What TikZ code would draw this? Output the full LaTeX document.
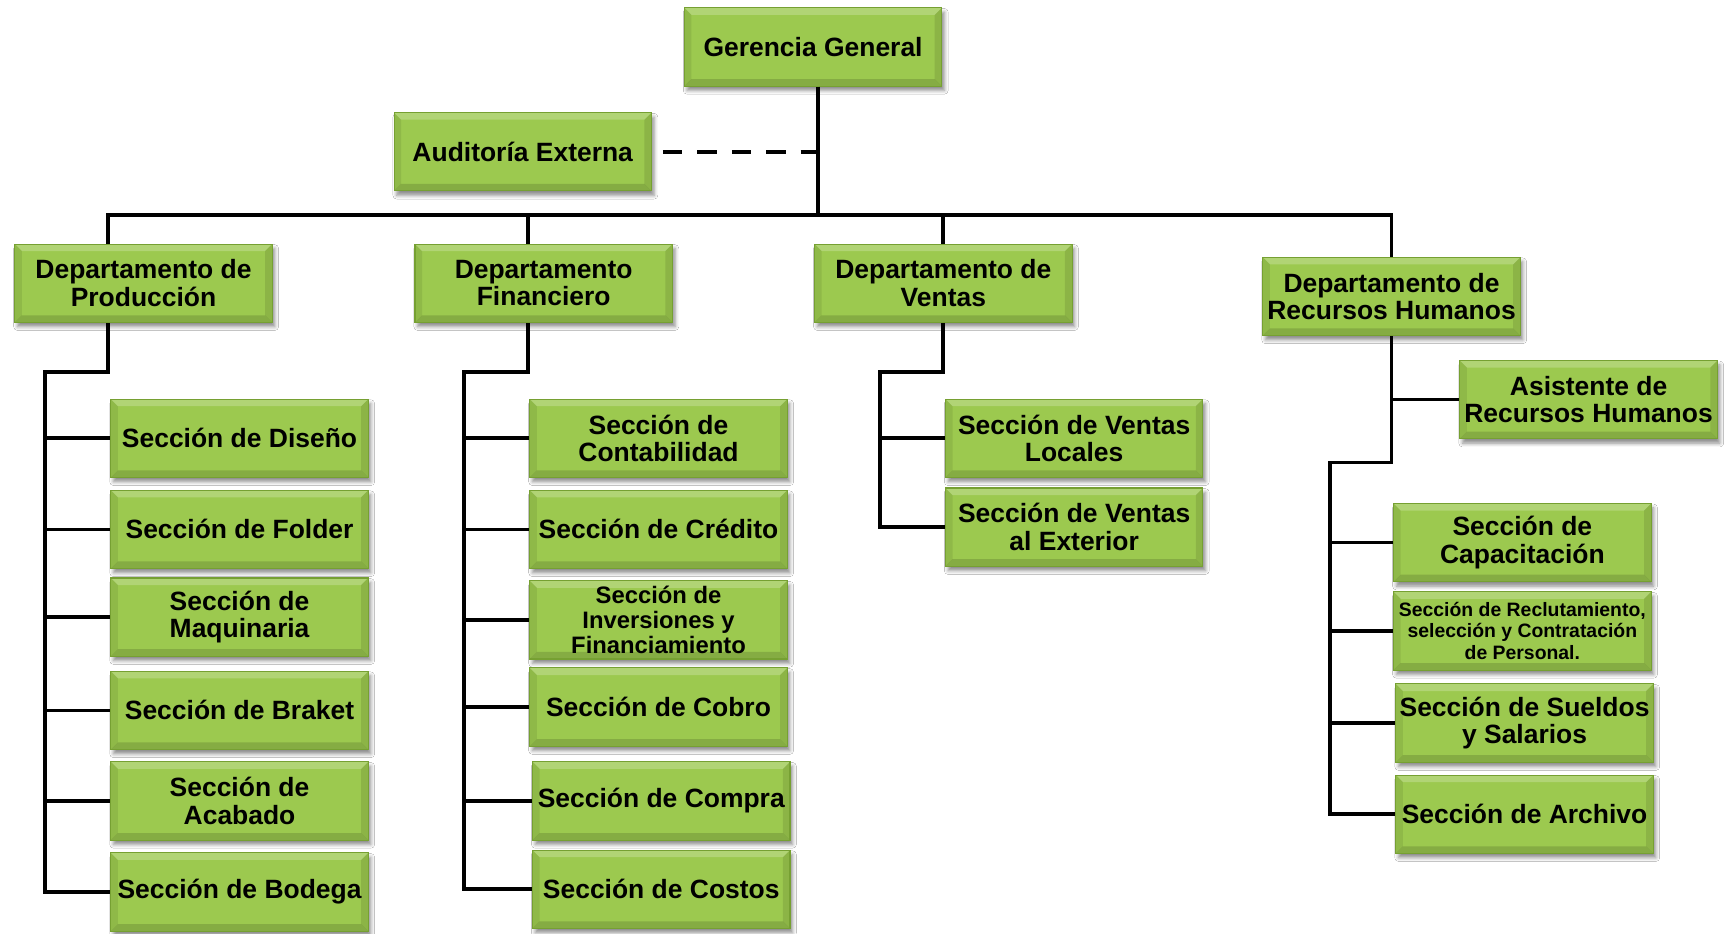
\documentclass[tikz,border=0pt]{standalone}
\usepackage{fontspec}
\setmainfont{Liberation Sans}
\usetikzlibrary{shadows.blur}
\definecolor{BoxGreen}{HTML}{9CC94F}
\definecolor{BoxRule}{HTML}{76A032}
\tikzset{bevel/.style={path picture={
  \fill[white, opacity=.22] (path picture bounding box.north west) -- (path picture bounding box.north east)
    -- ([shift={(-4pt,-4pt)}]path picture bounding box.north east) -- ([shift={(4pt,-4pt)}]path picture bounding box.north west) -- cycle;
  \fill[black, opacity=.14] (path picture bounding box.south west) -- (path picture bounding box.south east)
    -- ([shift={(-4pt,4pt)}]path picture bounding box.south east) -- ([shift={(4pt,4pt)}]path picture bounding box.south west) -- cycle;
  \fill[black, opacity=.08] (path picture bounding box.north west) -- ([shift={(4pt,-4pt)}]path picture bounding box.north west)
    -- ([shift={(4pt,4pt)}]path picture bounding box.south west) -- (path picture bounding box.south west) -- cycle;
  \fill[black, opacity=.10] (path picture bounding box.north east) -- ([shift={(-4pt,-4pt)}]path picture bounding box.north east)
    -- ([shift={(-4pt,4pt)}]path picture bounding box.south east) -- (path picture bounding box.south east) -- cycle;}}}

\begin{document}
\begin{tikzpicture}[x=0.022cm, y=-0.022cm,
  box/.style={fill=BoxGreen, draw=BoxRule, line width=0.6pt, bevel,
              minimum width=5.13cm, minimum height=1.56cm, align=center, inner sep=2pt,
              blur shadow={shadow xshift=1.5pt, shadow yshift=-2.5pt, shadow opacity=45},
              font=\bfseries\fontsize{15}{15.6}\selectfont},
  tight/.style={font=\bfseries\fontsize{13.5}{14.4}\selectfont},
  small/.style={font=\bfseries\fontsize{11}{12.2}\selectfont},
  link/.style={line width=2.1pt, black}]
  \useasboundingbox[fill=white] (0,0) rectangle (1568,846);
  \node[box] (gg) at (736.5,42.5) {Gerencia General};
  \node[box] (audit) at (473.5,137.5) {Auditoría Externa};
  \node[box] (dprod) at (130,256.5) {Departamento de\\Producción};
  \node[box] (dfin) at (492.5,256.5) {Departamento\\Financiero};
  \node[box] (dven) at (854.5,256.5) {Departamento de\\Ventas};
  \node[box] (drh) at (1260.5,268.5) {Departamento de\\Recursos Humanos};
  \node[box] (asist) at (1439,362) {Asistente de\\Recursos Humanos};
  % produccion
  \node[box] (sdis) at (217,397) {Sección de Diseño};
  \node[box] (sfol) at (217,479.5) {Sección de Folder};
  \node[box] (smaq) at (217,559) {Sección de\\Maquinaria};
  \node[box] (sbra) at (217,643.5) {Sección de Braket};
  \node[box] (saca) at (217,725.5) {Sección de\\Acabado};
  \node[box] (sbod) at (217,808) {Sección de Bodega};
  % financiero
  \node[box] (scon) at (596.5,397) {Sección de\\Contabilidad};
  \node[box] (scre) at (596.5,479.5) {Sección de Crédito};
  \node[box, tight] (sinv) at (596.5,561.5) {Sección de\\Inversiones y\\Financiamiento};
  \node[box] (scob) at (596.5,640.5) {Sección de Cobro};
  \node[box] (scom) at (599,725.5) {Sección de Compra};
  \node[box] (scos) at (599,805.5) {Sección de Costos};
  % ventas
  \node[box] (sloc) at (973,397) {Sección de Ventas\\Locales};
  \node[box] (sext) at (973,477.5) {Sección de Ventas\\al Exterior};
  % recursos humanos
  \node[box] (scap) at (1379,491.5) {Sección de\\Capacitación};
  \node[box, small] (srec) at (1379,571.5) {Sección de Reclutamiento,\\selección y Contratación\\de Personal.};
  \node[box] (ssue) at (1381,655) {Sección de Sueldos\\y Salarios};
  \node[box] (sarc) at (1381,737.5) {Sección de Archivo};

  % top level
  \coordinate (bus) at (741,195);
  \coordinate (jp) at (98,195);
  \coordinate (jf) at (478,195);
  \draw[link] (gg.south -| bus) -- (bus);
  \draw[link, line width=2.2pt, dash pattern=on 11pt off 8.5pt, shorten <=0.22cm] (audit) -- (audit -| 745,0);
  \draw[link] (jp |- dprod.north) -- (jp) -- (bus -| drh.north) -- (drh.north);
  \draw[link] (jf) -- (jf |- dfin.north);
  \draw[link] (bus -| dven.north) -- (dven.north);

  % branches
  \coordinate (vp) at (41,337);
  \coordinate (vf) at (420,337);
  \coordinate (vv) at (797,337);
  \coordinate (vr) at (1205,419);
  \draw[link] (jp |- dprod.south) |- (vp) |- (sbod.west);
  \foreach \s in {sdis,sfol,smaq,sbra,saca}
    \draw[link] (vp |- \s.west) -- (\s.west);
  \draw[link] (jf |- dfin.south) |- (vf) |- (scos.west);
  \foreach \s in {scon,scre,sinv,scob,scom}
    \draw[link] (vf |- \s.west) -- (\s.west);
  \draw[link] (dven.south) |- (vv) |- (sext.west);
  \draw[link] (vv |- sloc.west) -- (sloc.west);
  \draw[link] (drh.south) |- (vr) |- (sarc.west);
  \draw[link] (drh.south |- asist.west) -- (asist.west);
  \foreach \s in {scap,srec,ssue}
    \draw[link] (vr |- \s.west) -- (\s.west);
\end{tikzpicture}
\end{document}
